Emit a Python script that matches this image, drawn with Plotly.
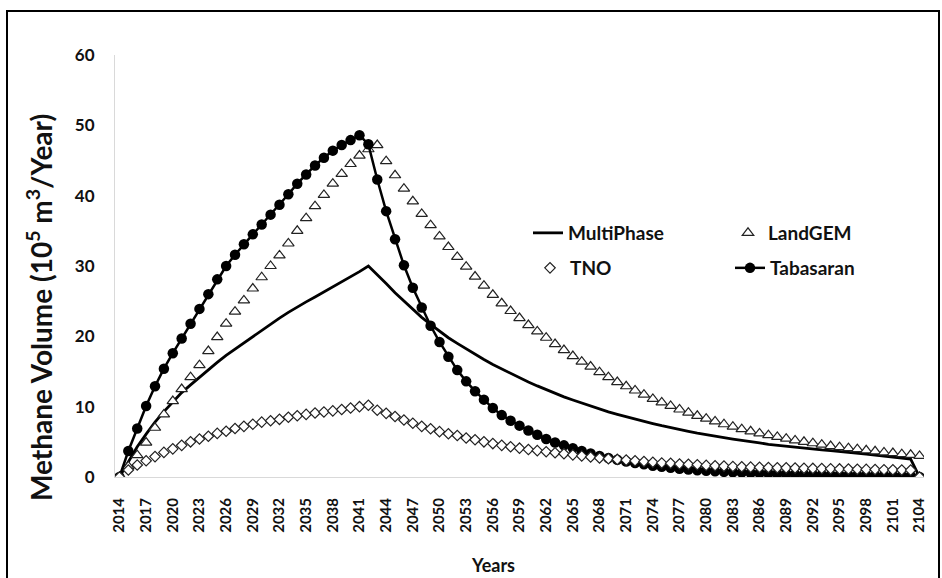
import plotly.graph_objects as go

years = list(range(2014, 2105))
tick_years = list(range(2014, 2105, 3))

multiphase = [0, 2.2, 4.3, 6.1, 7.8, 9.3, 10.7, 12.0, 13.1, 14.2, 15.3, 16.3, 17.3, 18.2, 19.1, 20.0,
              20.9, 21.8, 22.6, 23.4, 24.2, 24.9, 25.6, 26.3, 27.0, 27.7, 28.4, 29.2, 30.0, 28.8,
              27.5, 26.2, 25.0, 23.8, 22.7, 21.7, 20.7, 19.8, 19.0, 18.2, 17.4, 16.7, 16.0, 15.35,
              14.7, 14.1, 13.5, 12.95, 12.4, 11.9, 11.4, 10.95, 10.5, 10.05, 9.65, 9.25, 8.9, 8.55,
              8.2, 7.9, 7.6, 7.3, 7.0, 6.75, 6.5, 6.25, 6.0, 5.8, 5.6, 5.4, 5.25, 5.05, 4.85, 4.65,
              4.5, 4.35, 4.2, 4.05, 3.95, 3.85, 3.75, 3.65, 3.5, 3.4, 3.25, 3.1, 3.0, 2.85, 2.7,
              2.55, 0]

landgem = [0, 1.5, 3.1, 4.9, 7.0, 8.9, 10.8, 12.5, 14.2, 15.9, 17.9, 19.9, 21.8, 23.5, 25.1, 26.8,
           28.4, 30.0, 31.5, 33.2, 35.0, 36.8, 38.5, 40.1, 41.7, 43.1, 44.5, 45.7, 46.6, 47.2, 44.9,
           42.9, 41.0, 39.2, 37.4, 35.8, 34.2, 32.7, 31.3, 29.9, 28.5, 27.2, 25.9, 24.7, 23.6, 22.6,
           21.6, 20.7, 19.8, 18.9, 18.05, 17.2, 16.4, 15.7, 14.9, 14.2, 13.5, 12.9, 12.3, 11.7,
           11.1, 10.6, 10.1, 9.6, 9.15, 8.7, 8.3, 7.9, 7.5, 7.15, 6.8, 6.5, 6.2, 5.95, 5.7, 5.45,
           5.2, 5.0, 4.8, 4.6, 4.4, 4.25, 4.1, 3.95, 3.8, 3.65, 3.5, 3.4, 3.25, 3.15, 3.0]

tno = [0, 1.0, 1.7, 2.3, 2.9, 3.5, 4.0, 4.5, 5.0, 5.4, 5.8, 6.2, 6.5, 6.9, 7.2, 7.5, 7.8, 8.0, 8.2,
       8.5, 8.7, 8.9, 9.1, 9.25, 9.4, 9.6, 9.8, 10.0, 10.2, 9.5, 9.05, 8.6, 8.1, 7.65, 7.2, 6.85,
       6.45, 6.15, 5.9, 5.55, 5.3, 5.0, 4.75, 4.5, 4.3, 4.1, 3.9, 3.75, 3.6, 3.45, 3.3, 3.15, 3.0,
       2.85, 2.7, 2.6, 2.5, 2.4, 2.3, 2.2, 2.1, 2.0, 1.95, 1.85, 1.8, 1.75, 1.65, 1.6, 1.55, 1.5,
       1.45, 1.4, 1.38, 1.35, 1.32, 1.3, 1.28, 1.25, 1.22, 1.2, 1.18, 1.15, 1.13, 1.1, 1.08, 1.06,
       1.04, 1.02, 1.0, 0.98, 0]

tabasaran = [0, 3.7, 6.9, 10.1, 12.9, 15.4, 17.6, 19.7, 21.8, 23.9, 26.0, 28.1, 30.0, 31.6, 33.1,
             34.5, 35.9, 37.3, 38.7, 40.2, 41.7, 43.0, 44.3, 45.4, 46.4, 47.2, 47.9, 48.6, 47.3,
             42.3, 37.8, 33.8, 30.1, 26.9, 24.1, 21.5, 19.2, 17.1, 15.2, 13.6, 12.2, 11.0, 9.8, 8.8,
             8.0, 7.3, 6.6, 6.0, 5.4, 4.9, 4.5, 4.1, 3.7, 3.35, 3.0, 2.7, 2.45, 2.2, 2.0, 1.8, 1.6,
             1.45, 1.3, 1.18, 1.07, 0.97, 0.88, 0.8, 0.73, 0.67, 0.62, 0.57, 0.53, 0.49, 0.45, 0.42,
             0.39, 0.36, 0.34, 0.32, 0.3, 0.28, 0.26, 0.25, 0.24, 0.23, 0.22, 0.21, 0.2, 0.19, 0]

FONT = "Lato"
INK = "#111111"

fig = go.Figure()
fig.add_trace(go.Scatter(x=years, y=multiphase, name="MultiPhase", mode="lines",
                         line=dict(color="black", width=2.8), legend="legend"))
fig.add_trace(go.Scatter(x=years, y=landgem, name="LandGEM", mode="markers",
                         marker=dict(symbol="triangle-up", size=10, color="white",
                                     line=dict(color="#222222", width=1.2)), legend="legend"))
fig.add_trace(go.Scatter(x=years, y=tabasaran, name="Tabasaran", mode="lines+markers",
                         line=dict(color="black", width=2.5),
                         marker=dict(symbol="circle", size=10.5, color="black"),
                         legend="legend2", legendrank=2))
fig.add_trace(go.Scatter(x=years, y=tno, name="TNO", mode="markers",
                         marker=dict(symbol="diamond", size=8, color="white",
                                     line=dict(color="#222222", width=1.2)),
                         legend="legend2", legendrank=1))

L, R, T, B = 115, 18, 55, 101
W, H = 942, 578
pw, ph = W - L - R, H - T - B

def px(x):
    return (x - L) / pw

def py(y):
    return (H - B - y) / ph

legend_common = dict(orientation="h", xanchor="left", yanchor="middle",
                     entrywidth=155, entrywidthmode="pixels", bgcolor="rgba(0,0,0,0)",
                     font=dict(family=FONT, size=19, color=INK, weight="bold"), itemclick=False)

fig.update_layout(
    width=W, height=H,
    margin=dict(l=L, r=R, t=T, b=B),
    paper_bgcolor="white", plot_bgcolor="white",
    showlegend=True,
    legend=dict(x=px(528), y=py(233), **legend_common),
    legend2=dict(x=px(530), y=py(268), **legend_common),
    xaxis=dict(range=[2013.5, 2104.5], tickmode="array", tickvals=tick_years,
               ticktext=[str(v) for v in tick_years], tickangle=-90,
               tickfont=dict(family=FONT, size=15, color=INK, weight="bold"),
               showgrid=False, zeroline=False, showline=True, linecolor="#d9d9d9", linewidth=1,
               ticks="", ticklabelstandoff=14),
    yaxis=dict(range=[0, 60], tickmode="array", tickvals=[0, 10, 20, 30, 40, 50, 60],
               tickfont=dict(family=FONT, size=17, color=INK, weight="bold"),
               showgrid=False, zeroline=False, showline=True, linecolor="#d9d9d9", linewidth=1,
               ticks="", ticklabelstandoff=16),
    font=dict(family=FONT, color=INK),
)

fig.add_annotation(text="Methane Volume (10<sup>5</sup> m<sup>3</sup>/Year)", textangle=-90,
                   xref="paper", yref="paper", x=px(39), y=py(308), showarrow=False,
                   xanchor="center", yanchor="middle",
                   font=dict(family=FONT, size=28, color=INK, weight="bold"))
fig.add_annotation(text="Years", xref="paper", yref="paper", x=px(493), y=py(565),
                   showarrow=False, xanchor="center", yanchor="middle",
                   font=dict(family=FONT, size=18, color=INK, weight="bold"))

fig.add_shape(type="rect", xref="paper", yref="paper", x0=px(7), x1=px(939), y0=py(590), y1=py(11),
              line=dict(color="black", width=2), fillcolor="rgba(0,0,0,0)", layer="above")

fig.write_html("out.html")
